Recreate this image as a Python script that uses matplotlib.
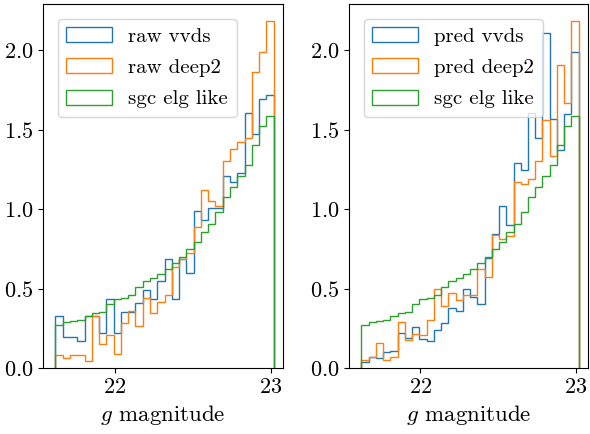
import numpy as np
import matplotlib
matplotlib.use("Agg")
import matplotlib.pyplot as plt

plt.rcParams['font.family'] = 'cmr10'
plt.rcParams['mathtext.fontset'] = 'cm'
plt.rcParams['axes.formatter.use_mathtext'] = True
plt.rcParams['font.size'] = 15

# bin edges in g magnitude (30 bins)
edges = np.linspace(21.62, 23.02, 31)

# density per bin
sgc_elg = [0.268, 0.289, 0.298, 0.300, 0.325, 0.346, 0.350, 0.400, 0.436, 0.442,
           0.457, 0.509, 0.547, 0.568, 0.590, 0.620, 0.660, 0.700, 0.750, 0.795,
           0.853, 0.906, 0.983, 1.073, 1.136, 1.205, 1.277, 1.400, 1.520, 1.585]

raw_vvds = [0.330, 0.195, 0.195, 0.168, 0.330, 0.330, 0.218, 0.436, 0.218, 0.355,
            0.355, 0.409, 0.490, 0.436, 0.550, 0.687, 0.436, 0.688, 0.600, 0.985,
            0.928, 1.006, 1.006, 1.208, 1.172, 1.228, 1.606, 1.470, 1.690, 1.717]

raw_deep2 = [0.080, 0.060, 0.080, 0.080, 0.042, 0.325, 0.149, 0.210, 0.086, 0.283,
             0.358, 0.262, 0.442, 0.346, 0.415, 0.460, 0.635, 0.688, 0.725, 0.886,
             1.119, 1.048, 1.021, 1.300, 1.380, 1.420, 1.445, 1.864, 1.990, 2.184]

pred_vvds = [0.040, 0.070, 0.060, 0.100, 0.110, 0.220, 0.190, 0.260, 0.180, 0.170,
             0.240, 0.280, 0.380, 0.360, 0.500, 0.445, 0.405, 0.690, 0.845, 1.020,
             0.900, 1.290, 1.245, 1.606, 1.450, 2.105, 1.564, 1.371, 1.597, 1.989]

pred_deep2 = [0.050, 0.070, 0.160, 0.050, 0.070, 0.290, 0.175, 0.215, 0.205, 0.305,
              0.495, 0.390, 0.470, 0.430, 0.460, 0.460, 0.620, 0.570, 0.835, 0.810,
              0.830, 1.170, 1.160, 1.190, 1.305, 1.560, 1.333, 1.906, 1.669, 2.184]

centers = 0.5 * (edges[:-1] + edges[1:])

fig = plt.figure(figsize=(5.9, 4.34), dpi=100)
ax1 = fig.add_axes([43 / 590, 1 - 368 / 434, 240 / 590, 364 / 434])
ax2 = fig.add_axes([349 / 590, 1 - 368 / 434, 239 / 590, 364 / 434])

panels = [
    (ax1, [(raw_vvds, 'raw vvds'), (raw_deep2, 'raw deep2'), (sgc_elg, 'sgc elg like')]),
    (ax2, [(pred_vvds, 'pred vvds'), (pred_deep2, 'pred deep2'), (sgc_elg, 'sgc elg like')]),
]

for ax, series in panels:
    for vals, lab in series:
        ax.hist(centers, bins=edges, weights=vals, histtype='step', label=lab)
    ax.set_xlim(21.54, 23.08)
    ax.set_ylim(0, 2.29)
    ax.set_xticks([22, 23])
    ax.set_yticks([0.0, 0.5, 1.0, 1.5, 2.0])
    ax.tick_params(labelsize=16)
    ax.set_xlabel('$g$ magnitude', fontsize=16.5)
    ax.legend(loc='upper left', borderaxespad=0.7, labelspacing=0.62,
              handlelength=2.2)

fig.savefig('out.png', dpi=100)
